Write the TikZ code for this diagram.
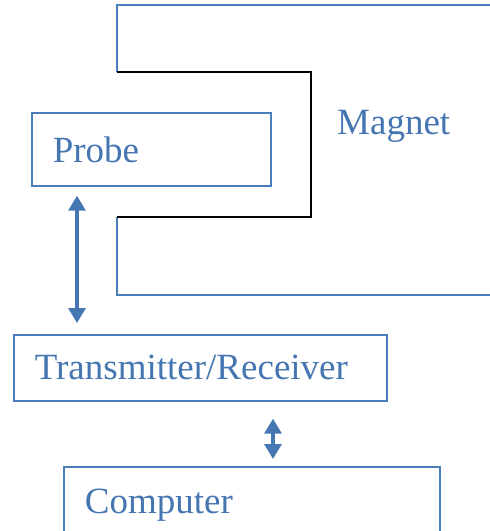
\documentclass[tikz,border=0pt]{standalone}
\usepackage{fontspec}
\setmainfont{Liberation Serif}
\usetikzlibrary{arrows.meta}

\definecolor{lineblue}{HTML}{4A7EBB}
\definecolor{textblue}{HTML}{4676B2}
\definecolor{arrowblue}{HTML}{4577B3}

\tikzset{
  bigfont/.style={font=\fontsize{37}{40}\selectfont},
  blockbox/.style={draw=lineblue, line width=1.7pt, rectangle, anchor=north west,
    inner xsep=21pt, inner ysep=0pt, align=left, text=textblue, bigfont},
  biarrow/.style={draw=arrowblue, line width=3.2pt,
    {Triangle[length=15pt,width=17pt]}-{Triangle[length=15pt,width=17pt]}},
  magnetline/.style={draw=lineblue, line width=1.7pt},
  gapline/.style={draw=black, line width=2pt, line join=miter},
}

\begin{document}
\begin{tikzpicture}[x=1pt, y=-1pt]
  \useasboundingbox (0,0) rectangle (490,531);

  % magnet yoke with the gap that holds the probe
  \coordinate (m1) at (117,72);
  \coordinate (m2) at (117,217);
  \draw[magnetline] (m1) -- (117,5) -- (496,5);
  \draw[magnetline] (m2) -- (117,295) -- (496,295);
  \draw[gapline] (m1) -- (311,72) -- (311,217) -- (m2);
  \node[anchor=base west, inner sep=0pt, text=textblue, bigfont] (magnet) at (337,134) {Magnet};

  % blocks
  \node[blockbox, text width=197pt, minimum height=73pt] (probe) at (31,112) {Probe};
  \node[blockbox, text width=331pt, minimum height=66pt] (trans) at (13,334) {Transmitter/Receiver};
  \node[blockbox, text width=334pt, minimum height=77pt] (comp) at (63,466) {Computer};

  % signal paths
  \draw[biarrow] ([xshift=46pt,yshift=-9pt]probe.south west) -- ([xshift=64pt,yshift=11pt]trans.north west);
  \draw[biarrow] ([xshift=260pt,yshift=-17pt]trans.south west) -- ([xshift=210pt,yshift=7pt]comp.north west);
\end{tikzpicture}
\end{document}
